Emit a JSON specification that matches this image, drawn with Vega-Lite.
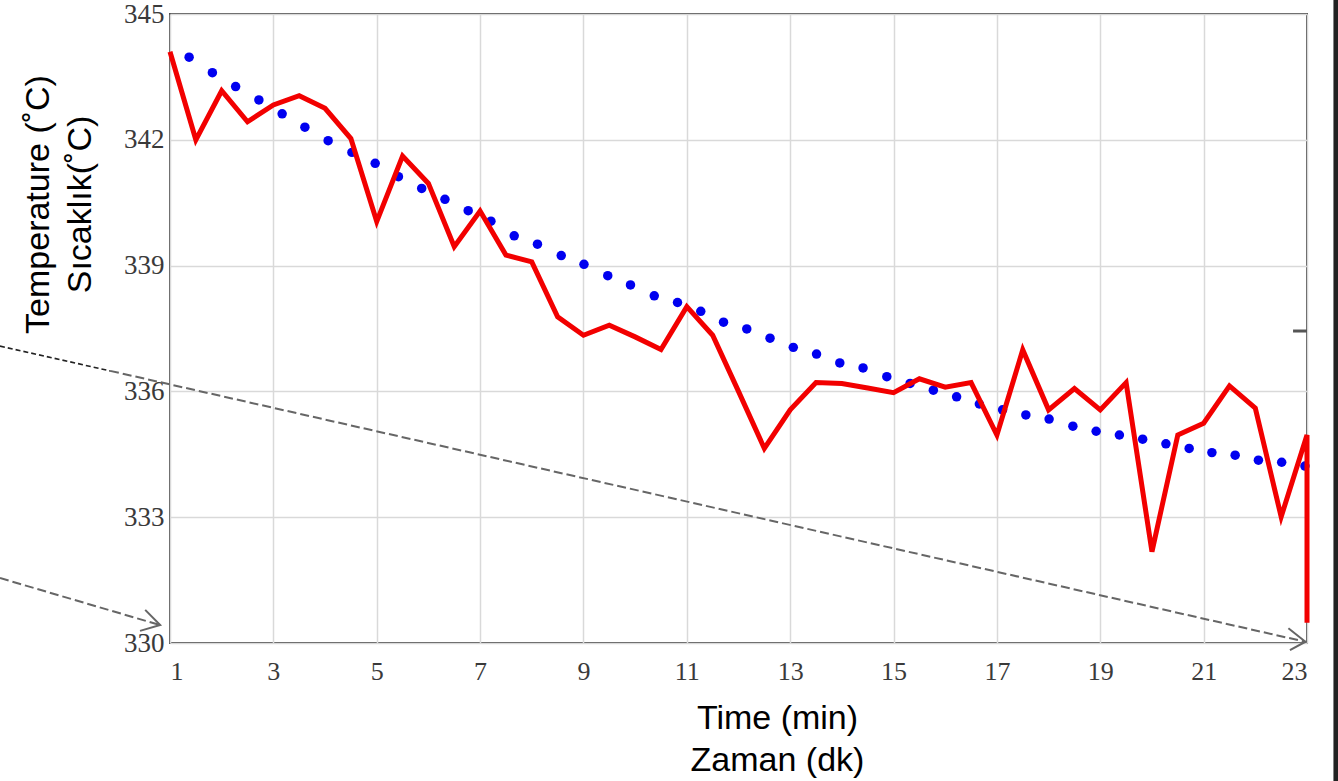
{
  "$schema": "https://vega.github.io/schema/vega-lite/v6.json",
  "autosize": {"type": "none"},
  "padding": {"left": 170, "top": 14, "right": 31, "bottom": 138},
  "width": 1137,
  "height": 629,
  "background": "white",
  "config": {
    "view": {"stroke": "#4d4d4d", "strokeWidth": 2},
    "axis": {
      "gridColor": "#d9d9d9",
      "gridWidth": 1.5,
      "gridOpacity": 1,
      "domain": false,
      "ticks": false,
      "labelFont": "Liberation Serif",
      "labelColor": "#3a3a3a",
      "titleFont": "Liberation Sans",
      "titleFontWeight": "normal",
      "titleColor": "#000000",
      "titleFontSize": 34,
      "titleLineHeight": 42
    }
  },
  "datasets": {
    "red": [
      {"i": 0, "t": 1, "v": 344.1},
      {"i": 1, "t": 1.5, "v": 342.0},
      {"i": 2, "t": 2, "v": 343.17},
      {"i": 3, "t": 2.5, "v": 342.43},
      {"i": 4, "t": 3, "v": 342.83},
      {"i": 5, "t": 3.5, "v": 343.05},
      {"i": 6, "t": 4, "v": 342.75},
      {"i": 7, "t": 4.5, "v": 342.03},
      {"i": 8, "t": 5, "v": 340.05},
      {"i": 9, "t": 5.5, "v": 341.61},
      {"i": 10, "t": 6, "v": 340.96},
      {"i": 11, "t": 6.5, "v": 339.45},
      {"i": 12, "t": 7, "v": 340.3},
      {"i": 13, "t": 7.5, "v": 339.25},
      {"i": 14, "t": 8, "v": 339.09},
      {"i": 15, "t": 8.5, "v": 337.78},
      {"i": 16, "t": 9, "v": 337.34},
      {"i": 17, "t": 9.5, "v": 337.58},
      {"i": 18, "t": 10, "v": 337.3},
      {"i": 19, "t": 10.5, "v": 337.0},
      {"i": 20, "t": 11, "v": 338.02},
      {"i": 21, "t": 11.5, "v": 337.34},
      {"i": 22, "t": 12, "v": 336.0},
      {"i": 23, "t": 12.5, "v": 334.64},
      {"i": 24, "t": 13, "v": 335.56},
      {"i": 25, "t": 13.5, "v": 336.21},
      {"i": 26, "t": 14, "v": 336.19},
      {"i": 27, "t": 14.5, "v": 336.08},
      {"i": 28, "t": 15, "v": 335.97},
      {"i": 29, "t": 15.5, "v": 336.3},
      {"i": 30, "t": 16, "v": 336.1},
      {"i": 31, "t": 16.5, "v": 336.21},
      {"i": 32, "t": 17, "v": 334.96},
      {"i": 33, "t": 17.5, "v": 336.99},
      {"i": 34, "t": 18, "v": 335.56},
      {"i": 35, "t": 18.5, "v": 336.07},
      {"i": 36, "t": 19, "v": 335.56},
      {"i": 37, "t": 19.5, "v": 336.21},
      {"i": 38, "t": 20, "v": 332.18},
      {"i": 39, "t": 20.5, "v": 334.96},
      {"i": 40, "t": 21, "v": 335.24},
      {"i": 41, "t": 21.5, "v": 336.13},
      {"i": 42, "t": 22, "v": 335.6},
      {"i": 43, "t": 22.5, "v": 333.01},
      {"i": 44, "t": 23, "v": 334.96},
      {"i": 45, "t": 23, "v": 330.48}
    ],
    "blue": [
      {"t": 1.37, "v": 343.97}, {"t": 1.82, "v": 343.6}, {"t": 2.27, "v": 343.27},
      {"t": 2.72, "v": 342.95}, {"t": 3.17, "v": 342.62}, {"t": 3.61, "v": 342.3},
      {"t": 4.06, "v": 341.98}, {"t": 4.52, "v": 341.7}, {"t": 4.97, "v": 341.44},
      {"t": 5.42, "v": 341.12}, {"t": 5.87, "v": 340.84}, {"t": 6.32, "v": 340.58},
      {"t": 6.77, "v": 340.31}, {"t": 7.21, "v": 340.06}, {"t": 7.66, "v": 339.71},
      {"t": 8.11, "v": 339.51}, {"t": 8.57, "v": 339.24}, {"t": 9.01, "v": 339.03},
      {"t": 9.47, "v": 338.76}, {"t": 9.91, "v": 338.54}, {"t": 10.37, "v": 338.28},
      {"t": 10.82, "v": 338.12}, {"t": 11.27, "v": 337.91}, {"t": 11.71, "v": 337.65},
      {"t": 12.16, "v": 337.49}, {"t": 12.61, "v": 337.27}, {"t": 13.06, "v": 337.05},
      {"t": 13.51, "v": 336.89}, {"t": 13.96, "v": 336.68}, {"t": 14.41, "v": 336.56},
      {"t": 14.87, "v": 336.35}, {"t": 15.32, "v": 336.19}, {"t": 15.77, "v": 336.03},
      {"t": 16.22, "v": 335.87}, {"t": 16.66, "v": 335.7}, {"t": 17.11, "v": 335.56},
      {"t": 17.56, "v": 335.44}, {"t": 18.01, "v": 335.34}, {"t": 18.47, "v": 335.17},
      {"t": 18.92, "v": 335.05}, {"t": 19.37, "v": 334.96}, {"t": 19.82, "v": 334.86},
      {"t": 20.27, "v": 334.75}, {"t": 20.72, "v": 334.64}, {"t": 21.16, "v": 334.54},
      {"t": 21.61, "v": 334.48}, {"t": 22.06, "v": 334.36}, {"t": 22.51, "v": 334.31},
      {"t": 22.96, "v": 334.22}
    ],
    "ann": [
      {"kind": "black", "seg": "A", "k": 0, "t": -2.29, "v": 337.08},
      {"kind": "black", "seg": "A", "k": 1, "t": -0.16, "v": 336.49},
      {"kind": "gray", "seg": "B", "k": 0, "t": -0.16, "v": 336.49},
      {"kind": "gray", "seg": "B", "k": 1, "t": 22.97, "v": 330.03},
      {"kind": "gray", "seg": "C", "k": 0, "t": -2.29, "v": 331.55},
      {"kind": "gray", "seg": "C", "k": 1, "t": 0.8, "v": 330.43},
      {"kind": "head", "seg": "HB", "k": 0, "t": 22.64, "v": 330.35},
      {"kind": "head", "seg": "HB", "k": 1, "t": 22.97, "v": 330.03},
      {"kind": "head", "seg": "HB", "k": 2, "t": 22.67, "v": 329.83},
      {"kind": "head", "seg": "HC", "k": 0, "t": 0.52, "v": 330.79},
      {"kind": "head", "seg": "HC", "k": 1, "t": 0.81, "v": 330.43},
      {"kind": "head", "seg": "HC", "k": 2, "t": 0.42, "v": 330.29}
    ],
    "marks": [
      {"kind": "tick", "t": 22.73, "t2": 23, "v": 337.44, "v2": 337.44},
      {"kind": "strip", "t": 23.56, "t2": 23.56, "v": 345.4, "v2": 326.6}
    ]
  },
  "encoding": {
    "x": {
      "field": "t", "type": "quantitative",
      "scale": {"domain": [1, 23], "nice": false, "zero": false},
      "axis": {
        "values": [1, 3, 5, 7, 9, 11, 13, 15, 17, 19, 21, 23],
        "labelFontSize": 26,
        "labelPadding": 15,
        "labelDx": 7,
        "title": ["Time (min)", "Zaman (dk)"],
        "titleX": 607,
        "titlePadding": 17
      }
    },
    "y": {
      "field": "v", "type": "quantitative",
      "scale": {"domain": [330, 345], "nice": false, "zero": false},
      "axis": {
        "values": [330, 333, 336, 339, 342, 345],
        "labelFontSize": 27,
        "labelPadding": 6,
        "labelDy": 3,
        "title": ["Temperature (˚C)", "Sıcaklık(˚C)"],
        "titleY": 190,
        "titlePadding": 26
      }
    }
  },
  "layer": [
    {
      "data": {"name": "ann"},
      "transform": [{"filter": "datum.kind === 'black'"}],
      "mark": {"type": "line", "color": "#222222", "strokeWidth": 1.6, "strokeDash": [5, 3], "clip": false},
      "encoding": {"detail": {"field": "seg"}, "order": {"field": "k"}}
    },
    {
      "data": {"name": "ann"},
      "transform": [{"filter": "datum.kind === 'gray'"}],
      "mark": {"type": "line", "color": "#666666", "strokeWidth": 2, "strokeDash": [9, 4], "clip": false},
      "encoding": {"detail": {"field": "seg"}, "order": {"field": "k"}}
    },
    {
      "data": {"name": "ann"},
      "transform": [{"filter": "datum.kind === 'head'"}],
      "mark": {"type": "line", "color": "#666666", "strokeWidth": 2, "clip": false},
      "encoding": {"detail": {"field": "seg"}, "order": {"field": "k"}}
    },
    {
      "data": {"name": "marks"},
      "transform": [{"filter": "datum.kind === 'tick'"}],
      "mark": {"type": "rule", "color": "#555555", "strokeWidth": 3, "clip": false},
      "encoding": {"x2": {"field": "t2"}, "y2": {"field": "v2"}}
    },
    {
      "data": {"name": "marks"},
      "transform": [{"filter": "datum.kind === 'strip'"}],
      "mark": {"type": "rule", "color": "#222222", "strokeWidth": 5, "clip": false},
      "encoding": {"x2": {"field": "t2"}, "y2": {"field": "v2"}}
    },
    {
      "data": {"name": "blue"},
      "mark": {"type": "point", "filled": true, "color": "#0000f0", "size": 90, "opacity": 1},
      "encoding": {}
    },
    {
      "data": {"name": "red"},
      "mark": {"type": "line", "color": "#f20000", "strokeWidth": 5},
      "encoding": {"order": {"field": "i"}}
    }
  ]
}
